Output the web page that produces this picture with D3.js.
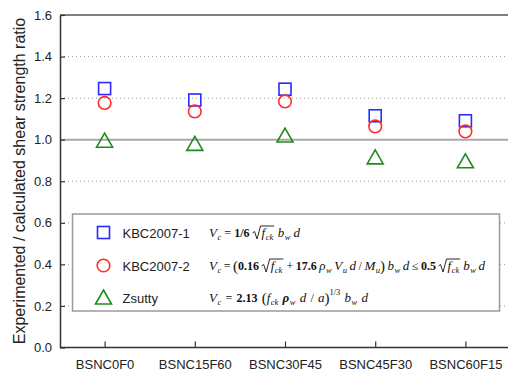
<!DOCTYPE html>
<html><head><meta charset="utf-8">
<script src="https://cdn.jsdelivr.net/npm/d3@7"></script>
<style>body{margin:0;background:#fff}text{white-space:pre}</style>
</head><body>
<svg id="c" width="508" height="372"></svg>
<script>
const categories = ["BSNC0F0","BSNC15F60","BSNC30F45","BSNC45F30","BSNC60F15"];
const kbc1 = [1.246, 1.191, 1.243, 1.115, 1.091];
const kbc2 = [1.177, 1.136, 1.184, 1.064, 1.040];
const zsutty = [0.995, 0.980, 1.020, 0.915, 0.896];
const yTicks = [0.0,0.2,0.4,0.6,0.8,1.0,1.2,1.4,1.6];
const seriesNames = ["KBC2007-1","KBC2007-2","Zsutty"];
const yTitle = "Experimented / calculated shear strength ratio";
// formula pieces: [text, kind]
const formulas = [
 [["V","i"],["c","sub"],["=","n"],["1/6","b"],["√(",""],["f","i"],["ck","sub"],["√)",""],["b","i"],["w","sub"],["d","i"]],
 [["V","i"],["c","sub"],["=","n"],["(","p"],["0.16","b"],["√(",""],["f","i"],["ck","sub"],["√)",""],["+","n"],["17.6","b"],["ρ","i"],["w","sub"],["V","i"],["u","sub"],["d","i"],["/","n"],["M","i"],["u","sub"],[")","p"],["b","i"],["w","sub"],["d","i"],["≤","n"],["0.5","b"],["√(",""],["f","i"],["ck","sub"],["√)",""],["b","i"],["w","sub"],["d","i"]],
 [["V","i"],["c","sub"],["=","n"],["2.13","b"],["(","p"],["f","i"],["ck","sub"],["ρ","bi"],["w","sub"],["d","i"],["/","n"],["a","i"],[")","p"],["1/3","sup"],["b","i"],["w","sub"],["d","i"]]
];
const formulaEnds = [300, 485, 368];

const svg = d3.select("#c");
const W = 508, H = 372;
const x = d3.scalePoint().domain(categories).range([59.5, 510.5]).padding(0.5);
const y = d3.scaleLinear().domain([0,1.6]).range([347.5, 15]);

// grid
const grid = svg.append("g");
yTicks.filter(v => v>0 && v<1.6 && v!==1.0).forEach(v => {
  grid.append("line").attr("x1",60).attr("x2",W).attr("y1",y(v)).attr("y2",y(v))
    .attr("stroke","#9a9a9a").attr("stroke-width",1).attr("stroke-dasharray","1,3");
});
grid.append("line").attr("x1",60).attr("x2",W).attr("y1",y(1.0)).attr("y2",y(1.0))
  .attr("stroke","#a8a8a8").attr("stroke-width",2);

// frame top
svg.append("line").attr("x1",60).attr("x2",W).attr("y1",15).attr("y2",15).attr("stroke","#555").attr("stroke-width",1.5);

// axes
const yAxis = svg.append("g").attr("transform","translate(60,0)")
  .call(d3.axisLeft(y).tickValues(yTicks).tickFormat(d3.format(".1f")).tickSizeInner(-5).tickSizeOuter(0).tickPadding(8));
yAxis.select(".domain").attr("stroke","#333").attr("stroke-width",1.5);
yAxis.selectAll(".tick line").attr("stroke","#333").attr("stroke-width",1.2);
yAxis.selectAll(".tick text").attr("font-family","Liberation Sans, Arial, sans-serif").attr("font-size",13).attr("fill","#222");

const xAxis = svg.append("g").attr("transform","translate(0,347.5)")
  .call(d3.axisBottom(x).tickSizeInner(-6).tickSizeOuter(0).tickPadding(8));
xAxis.select(".domain").attr("d","M60,0H"+W).attr("stroke","#333").attr("stroke-width",1.5);
xAxis.selectAll(".tick line").attr("stroke","#333").attr("stroke-width",1.2);
xAxis.selectAll(".tick text").attr("font-family","Liberation Sans, Arial, sans-serif").attr("font-size",13).attr("fill","#222").attr("dy","1.0em");

// y title
svg.append("text").attr("transform","translate(19,181) rotate(-90)").attr("text-anchor","middle")
  .attr("dominant-baseline","central").attr("font-family","Liberation Sans, Arial, sans-serif")
  .attr("font-size",16).attr("fill","#222").text(yTitle);

// markers
const colors = ["#2a2aff","#ff2a2a","#1f8a1f"];
function marker(g, kind, cx, cy){
  if(kind===0){
    g.append("rect").attr("x",cx-6).attr("y",cy-6).attr("width",12).attr("height",12)
      .attr("fill","none").attr("stroke",colors[0]).attr("stroke-width",1.6);
  } else if(kind===1){
    g.append("circle").attr("cx",cx).attr("cy",cy).attr("r",6.3)
      .attr("fill","none").attr("stroke",colors[1]).attr("stroke-width",1.6);
  } else {
    g.append("path").attr("d",`M${cx},${cy-7.5}L${cx+8},${cy+6.5}L${cx-8},${cy+6.5}Z`)
      .attr("fill","none").attr("stroke",colors[2]).attr("stroke-width",1.6).attr("stroke-linejoin","miter");
  }
}
const pts = svg.append("g");
[kbc1,kbc2,zsutty].forEach((arr,k)=>{
  arr.forEach((v,i)=> marker(pts,k,x(categories[i]),y(v)));
});

// legend
const lg = svg.append("g");
lg.append("rect").attr("x",72.5).attr("y",214).attr("width",427).attr("height",97)
  .attr("fill","#fff").attr("stroke","#9a9a9a").attr("stroke-width",1.5);
const rowY = [232.5, 265.5, 297.5];
seriesNames.forEach((n,k)=>{
  marker(lg,k,103.5,rowY[k]);
  lg.append("text").attr("x",122.5).attr("y",rowY[k]+5).attr("font-family","Liberation Sans, Arial, sans-serif")
    .attr("font-size",13).attr("fill","#222").text(n);
});

function pieceStyle(k){
  let fs = 13, dy = 0, style="normal", weight="normal";
  if(k==="i"){ style="italic"; }
  if(k==="b"){ weight="bold"; fs=12; }
  if(k==="bi"){ weight="bold"; style="italic"; }
  if(k==="n"){ fs=12; }
  if(k==="sub"){ fs=8.5; dy=3; style="italic"; }
  if(k==="sup"){ fs=8.5; dy=-7; }
  if(k==="p"){ fs=15; dy=1; }
  return {fs,dy,style,weight};
}
function drawFormula(g, x0, yb, parts, xEnd){
  const widths = parts.map(([t,k])=>{
    if(t==="√(") return 9;
    if(t==="√)") return 1.5;
    const s = pieceStyle(k);
    const el = g.append("text").attr("font-family","Liberation Serif, Times New Roman, serif")
      .attr("font-size",s.fs).attr("font-style",s.style).attr("font-weight",s.weight).text(t);
    const w = el.node().getComputedTextLength(); el.remove();
    return w + (k==="sub" ? 0.5 : 0);
  });
  const gapIdx = parts.map(([t,k],i)=> i>0 && k!=="sub" && k!=="sup" && t!=="√)" && t!==")" &&
     parts[i-1][0]!=="√(" && parts[i-1][0]!=="(");
  const nat = d3.sum(widths);
  const nGaps = gapIdx.filter(Boolean).length;
  const gap = Math.max(0.8, (xEnd - x0 - nat) / nGaps);
  let cx = x0, sq = null;
  parts.forEach((p,i)=>{
    const [t,k] = p;
    if(gapIdx[i]) cx += gap;
    if(t==="√("){ sq = cx; cx += widths[i]; return; }
    if(t==="√)"){
      const top = yb - 11;
      g.append("path").attr("d",`M${sq},${yb-4}L${sq+2},${yb-5.5}L${sq+4.5},${yb+2}L${sq+8},${top}L${cx+1},${top}`)
        .attr("fill","none").attr("stroke","#111").attr("stroke-width",0.9);
      cx += widths[i]; return;
    }
    const s = pieceStyle(k);
    g.append("text").attr("x",cx + (k==="sub"?0.5:0)).attr("y",yb+s.dy).attr("font-family","Liberation Serif, Times New Roman, serif")
      .attr("font-size",s.fs).attr("font-style",s.style).attr("font-weight",s.weight).attr("fill","#111").text(t);
    cx += widths[i];
  });
}
formulas.forEach((f,k)=> drawFormula(lg, 209, rowY[k]+4.5, f, formulaEnds[k]));
</script>
</body></html>
